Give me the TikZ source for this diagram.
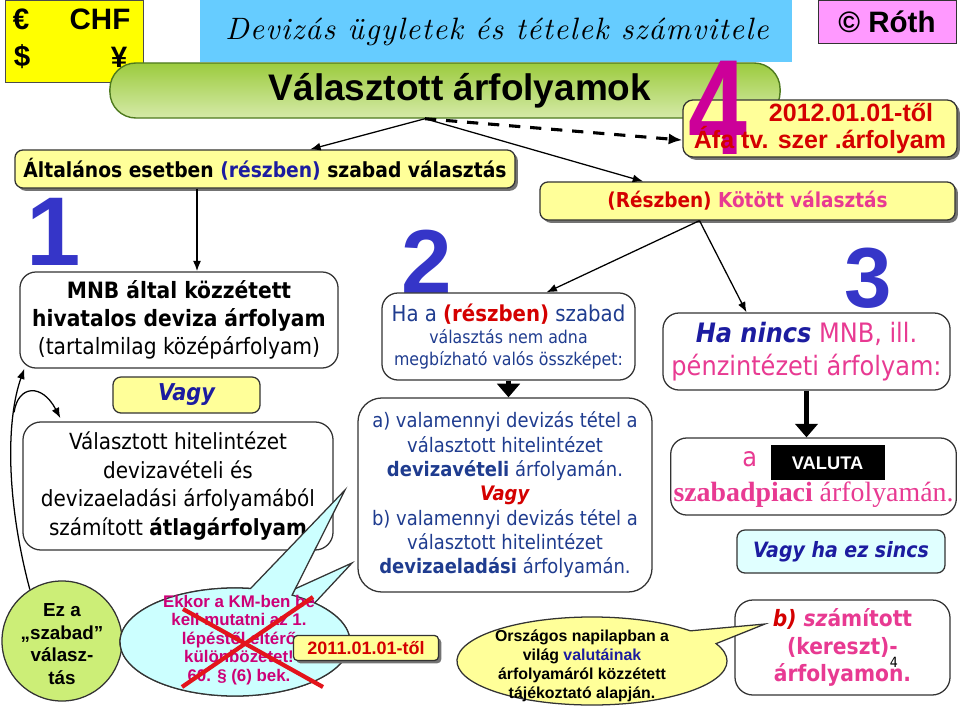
\documentclass[tikz,border=0pt]{standalone}
\usepackage{fontspec}
\usepackage{xcolor}
\usepackage{graphicx}
\usepackage{tikz}
\usetikzlibrary{positioning,calc,arrows.meta,shapes.geometric,shapes.callouts,shadows}
\newfontfamily\tah{DejaVu Sans Condensed}
\newfontfamily\ari{Liberation Sans}
\newfontfamily\tms{Liberation Serif}
\newfontfamily\scr[LetterSpace=4]{lmroman10-italic.otf}
\newcommand{\fsz}[2]{\fontsize{#1}{#2}\selectfont}
\definecolor{pylw}{HTML}{FFFF99}
\definecolor{pcur}{HTML}{FFFF00}
\definecolor{psky}{HTML}{66CCFF}
\definecolor{proth}{HTML}{FF99FF}
\definecolor{gtop}{HTML}{9CCB3E}
\definecolor{gmid}{HTML}{F3F9E8}
\definecolor{gbot}{HTML}{D5EAA8}
\definecolor{gline}{HTML}{4E7A1E}
\definecolor{pnavy}{HTML}{1F3C8F}
\definecolor{pvblue}{HTML}{1C1CA0}
\definecolor{pred}{HTML}{D40000}
\definecolor{ppink}{HTML}{E83A92}
\definecolor{pmag}{HTML}{CC0077}
\definecolor{pdig}{HTML}{3535C8}
\definecolor{pfour}{HTML}{CC0099}
\definecolor{plime}{HTML}{CCEE77}
\definecolor{pcyan}{HTML}{CCFFFF}
\definecolor{pline}{HTML}{333333}
\definecolor{pcross}{HTML}{E3141B}

\begin{document}
\begin{tikzpicture}[x=0.025cm, y=-0.025cm,
  box/.style={draw=pline, line width=0.9pt, fill=white, rounded corners=0.4cm,
              align=center, inner sep=2pt},
  ybox/.style={draw=pline, line width=0.9pt, fill=pylw, rounded corners=0.2cm,
               align=center, inner sep=2pt,
               drop shadow={shadow xshift=0.07cm, shadow yshift=-0.07cm, fill=black!55, opacity=1}},
  digit/.style={font=\ari\bfseries\fsz{#1}{#1}, text=pdig, inner sep=0pt},
  txt/.style={inner sep=0pt, align=center},
  arr/.style={-{Latex[length=2.6mm,width=2mm]}, line width=0.9pt},
  fat/.style={-{Triangle[length=3.4mm,width=5.6mm]}, line width=3.6pt},
  dsh/.style={-{Latex[length=3.4mm,width=2.8mm]}, line width=2.2pt, dash pattern=on 8pt off 7pt},
  xline/.style={draw=pcross, line width=3pt}]
  \useasboundingbox (0,0) rectangle (960,716);
  % --- header strip
  \node[draw=black!70, fill=pcur, minimum width=3.45cm, minimum height=2.05cm] (cur) at (74,41) {};
  \node[txt, font=\ari\bfseries\fsz{21}{21}] (eur) at (21,19) {€};
  \node[txt, font=\ari\bfseries\fsz{21}{21}] (chf) at (100,19) {CHF};
  \node[txt, font=\ari\bfseries\fsz{21}{21}] (usd) at (22,57) {\$};
  \node[txt, font=\ari\bfseries\fsz{21}{21}] (yen) at (119,57) {¥};
  \node[fill=psky, minimum width=14.8cm, minimum height=1.55cm, inner sep=0pt] (ttl) at (496,31) {};
  \node[txt, font=\scr\fsz{22}{22}] (ttltxt) at (497,32) {Devizás ügyletek és tételek számvitele};
  \node[draw=gline, line width=1pt, rounded corners=0.65cm, top color=gtop, middle color=gmid,
        bottom color=gbot, minimum width=16.75cm, minimum height=1.375cm,
        font=\ari\bfseries\fsz{26.3}{27}] (ban) at (445,90.5) {\hspace*{0.75cm}Választott árfolyamok};
  \node[draw=pline, fill=proth, minimum width=3.45cm, minimum height=1.075cm,
        font=\ari\bfseries\fsz{21}{21}] (roth) at (887,21.5) {© Róth};
  \node[ybox, rounded corners=0.25cm, minimum width=6.85cm, minimum height=1.425cm] (afa) at (820,128.5) {};
  \node[txt, font=\ari\bfseries\fsz{96.5}{96.5}, text=pfour] (four) at (718,108) {\scalebox{0.78}[1]{4}};
  \node[txt, font=\ari\bfseries\fsz{17.8}{19.2}, text=pred] (afatxt) at (afa)
        {\hspace*{1.55cm}2012.01.01-től\\Áfa tv. szer .árfolyam};
  % --- the two kinds of choice
  \node[ybox, minimum width=12.5cm, minimum height=0.95cm, font=\tah\bfseries\fsz{14.8}{16}] (alt)
        at (265,169) {Általános esetben \textcolor{pvblue}{(részben)} szabad választás};
  \node[ybox, minimum width=10.375cm, minimum height=0.95cm, font=\tah\bfseries\fsz{14.6}{16}] (kot)
        at (747.5,201) {\textcolor{pred}{(Részben)} \textcolor{ppink}{Kötött választás}};
  % --- step 1
  \node[digit=69.5] (one) at (54,232) {1};
  \node[box, minimum width=7.95cm, minimum height=2.4cm, font=\tah\fsz{16}{20}] (mnb) at (179,320)
        {\textbf{MNB által közzétett}\\\textbf{hivatalos deviza árfolyam}\\(tartalmilag középárfolyam)};
  \node[box, fill=pylw, rounded corners=0.2cm, minimum width=3.675cm, minimum height=0.9cm,
        font=\tah\bfseries\itshape\fsz{16.5}{18}, text=pvblue] (or1) at (186.5,395) {Vagy};
  \node[box, rounded corners=0.45cm, minimum width=7.75cm, minimum height=3.2cm,
        font=\tah\fsz{15.8}{20.6}] (hit) at (178,486)
        {Választott hitelintézet\\devizavételi és\\devizaeladási árfolyamából\\számított \textbf{átlagárfolyam}};
  \node[circle, draw=pline, line width=0.9pt, fill=plime, minimum size=3cm] (ez) at (62,641) {};
  \node[txt, font=\ari\bfseries\fsz{13.4}{16}] (eztxt) at (62,644) {Ez a\\„szabad”\\válasz-\\tás};
  \node[ellipse callout, callout absolute pointer={(352,563)}, callout pointer arc=18, draw=pline,
        line width=0.9pt, fill=pcyan, minimum width=5.75cm, minimum height=2.7cm] (ekkb) at (235,642) {};
  \node[ellipse callout, callout absolute pointer={(345,490)}, callout pointer arc=22, draw=pline,
        line width=0.9pt, fill=pcyan, minimum width=5.75cm, minimum height=2.7cm] (ekk) at (235,642) {};
  \node[txt, font=\ari\bfseries\fsz{12}{13.2}, text=pmag] (ekktxt) at (239,640)
        {Ekkor a KM-ben be\\kell mutatni az 1.\\lépéstől eltérő\\különbözetet!\\60. § (6) bek.};
  \node[ybox, rounded corners=0.1cm, minimum width=3.625cm, minimum height=0.625cm, inner sep=1pt,
        font=\ari\bfseries\fsz{12.8}{13}, text=pred] (y11) at (366,648) {2011.01.01-től};
  % --- step 2
  \node[digit=64.6] (two) at (427,262) {2};
  \node[box, minimum width=6.325cm, minimum height=2.175cm, font=\tah\fsz{12.5}{15.5}, text=pnavy] (hab)
        at (508.5,336.5) {{\fsz{15.6}{16}Ha a \textcolor{pred}{\textbf{(részben)}} szabad}\\választás nem adna\\megbízható valós összképet:};
  \node[box, rounded corners=0.6cm, minimum width=7.35cm, minimum height=4.85cm,
        font=\tah\fsz{14.2}{17.3}, text=pnavy] (ab) at (505,495)
        {a) valamennyi devizás tétel a\\választott hitelintézet\\\textbf{devizavételi} árfolyamán.\\
         \textcolor{pred}{\textbf{\textit{Vagy}}}\\b) valamennyi devizás tétel a\\választott hitelintézet\\
         \textbf{devizaeladási} árfolyamán.};
  % --- step 3
  \node[digit=60.6] (three) at (868,278) {3};
  \node[box, minimum width=7.175cm, minimum height=1.925cm, font=\tah\fsz{19}{23.5}, text=ppink] (b3)
        at (806.5,351.5) {\textcolor{pvblue}{\textbf{\textit{Ha nincs}}} MNB, ill.\\pénzintézeti árfolyam:};
  \node[box, minimum width=7.075cm, minimum height=1.925cm, text=ppink] (val) at (813.5,476.5)
        {{\tah\fsz{19}{22}a\enspace}{\setlength{\fboxsep}{0pt}\colorbox{black}{\parbox[c][0.875cm][c]{2.85cm}{\centering\ari\bfseries\fsz{13}{13}\textcolor{white}{VALUTA}}}}\\
         {\tms\fsz{19.8}{24}\textbf{szabadpiaci} árfolyamán.}};
  \node[box, fill=pcyan!60!white, rounded corners=0.2cm, minimum width=5.2cm, minimum height=1.075cm,
        font=\tah\bfseries\itshape\fsz{15}{16}, text=pvblue] (or2) at (841,551.5) {Vagy ha ez sincs};
  \node[box, rounded corners=0.45cm, minimum width=5.375cm, minimum height=2.375cm,
        font=\tah\bfseries\fsz{16}{19.5}, text=ppink] (bcr) at (842.5,647.5)
        {\textcolor{pred}{\textit{b)}} \textit{sz}ámított\\(kereszt)-\\árfolyamon.};
  \node[txt, font=\tah\fsz{10}{10}] (pg) at (894,662) {4};
  \node[ellipse callout, callout absolute pointer={(765,624)}, callout pointer arc=20, draw=pline,
        line width=0.9pt, fill=pylw, minimum width=6.75cm, minimum height=2.2cm] (orsz) at (592,661) {};
  \node[txt, font=\ari\bfseries\fsz{11.3}{13.5}] (orsztxt) at (582,666)
        {Országos napilapban a\\világ \textcolor{pvblue}{valutáinak}\\árfolyamáról közzétett\\tájékoztató alapján.};
  % --- connectors
  \coordinate (src) at ([xshift=-0.5cm]ban.south);
  \draw[arr] (src) -- ([xshift=1.13cm]alt.north);
  \draw[arr] (src) -- ([xshift=-2.61cm]kot.north);
  \draw[dsh] (src) -- ([yshift=-0.29cm]afa.west);
  \draw[arr, line width=1.2pt] ([xshift=0.45cm]mnb.north |- alt.south) -- ([xshift=0.45cm]mnb.north);
  \coordinate (kfork) at ([xshift=-1.2cm]kot.south);
  \draw[arr] (kfork) -- ([xshift=0.95cm]hab.north);
  \draw[arr] (kfork) -- ([xshift=-1.5cm]b3.north);
  \draw[fat] (hab.south) -- (hab.south |- ab.north);
  \draw[fat] (b3.south) -- (b3.south |- val.north);
  \draw[arr] (ez.122) .. controls (6,500) and (6,420) .. ([xshift=0.125cm]mnb.south west)
        coordinate[pos=0.75] (fork);
  \draw[arr] (fork) .. controls (18,385) and (42,383) .. ([xshift=0.95cm,yshift=0.08cm]hit.north west);
  % --- struck out
  \draw[xline] ($(ekk.center)+(-52,-33)$) -- ($(ekk.center)+(88,45)$);
  \draw[xline] ($(ekk.center)+(78,-45)$) -- ($(ekk.center)+(-53,45)$);
\end{tikzpicture}
\end{document}
